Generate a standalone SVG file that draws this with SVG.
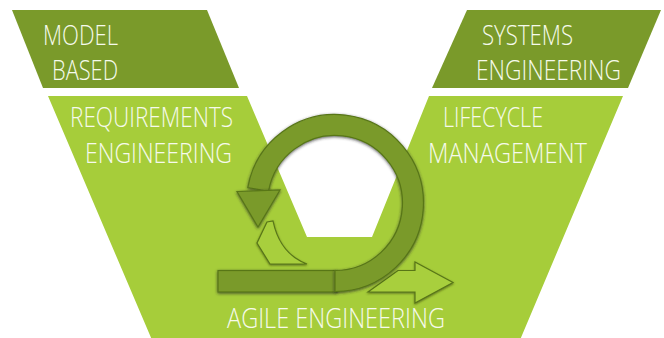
<svg xmlns="http://www.w3.org/2000/svg" width="664" height="338" viewBox="0 0 664 338">
  <defs>
    <style>
      .dark { fill: #7a9a2a; }
      .light { fill: #a6cd3a; }
      .lbl { font-family: "Open Sans", "Liberation Sans", sans-serif; font-weight: 300; font-size: 28px; fill: #f6faec; }
      .arr { fill: #7a9a2a; stroke: #587619; stroke-width: 1.2; }
      .arrl { fill: #a8cf3c; stroke: #587619; stroke-width: 1.2; }
    </style>
    <filter id="sh" x="-20%" y="-20%" width="140%" height="140%">
      <feDropShadow dx="0" dy="1" stdDeviation="1.6" flood-color="#2a2a2a" flood-opacity="0.75"/>
    </filter>
    <filter id="sh2" x="-20%" y="-20%" width="140%" height="140%">
      <feDropShadow dx="0" dy="1" stdDeviation="1.2" flood-color="#3a4a10" flood-opacity="0.7"/>
    </filter>
  </defs>

  <rect width="664" height="338" fill="#ffffff"/>

  <g id="model-based">
    <polygon class="dark" points="12,10 207,10 239,88 43,88"/>
    <text class="lbl" x="43" y="45" textLength="75" lengthAdjust="spacingAndGlyphs">MODEL</text>
    <text class="lbl" x="52" y="80" textLength="66" lengthAdjust="spacingAndGlyphs">BASED</text>
  </g>

  <g id="systems-engineering">
    <polygon class="dark" points="467,10 661,10 628,88 432,88"/>
    <text class="lbl" x="482" y="45" textLength="91" lengthAdjust="spacingAndGlyphs">SYSTEMS</text>
    <text class="lbl" x="476" y="80" textLength="145" lengthAdjust="spacingAndGlyphs">ENGINEERING</text>
  </g>

  <g id="v-shape">
    <polygon class="light" points="48,96 247,96 307,237 372,237 429,96 623,96 520,340 152,340"/>
  </g>

  <g id="requirements-engineering">
    <text class="lbl" x="70" y="127" textLength="163" lengthAdjust="spacingAndGlyphs">REQUIREMENTS</text>
    <text class="lbl" x="85" y="163" textLength="147" lengthAdjust="spacingAndGlyphs">ENGINEERING</text>
  </g>

  <g id="lifecycle-management">
    <text class="lbl" x="443" y="127" textLength="100" lengthAdjust="spacingAndGlyphs">LIFECYCLE</text>
    <text class="lbl" x="428" y="163" textLength="159" lengthAdjust="spacingAndGlyphs">MANAGEMENT</text>
  </g>

  <g id="connectors">
    <!-- outgoing arrow to the right (behind ring) -->
    <polygon class="arrl" filter="url(#sh2)" points="368,292 398,270.5 415,270.5 415,262 453,282.5 415,303 415,292"/>
    <!-- light tail piece -->
    <path class="arrl" filter="url(#sh2)" d="M267,222 L273,221 Q280,254 307,264 L270,264 L257,243 Z"/>
    <!-- horizontal bar -->
    <rect class="arr" filter="url(#sh)" x="218" y="270.5" width="119" height="21.5"/>
    <!-- ring -->
    <path class="arr" filter="url(#sh)" d="M335,270.5 A67.5,67.5 0 1 0 268.5,191.3 L247.8,187.6 A88.5,88.5 0 1 1 335,291.5 Z"/>
    <!-- arrowhead -->
    <polygon class="arr" filter="url(#sh)" points="237,191.5 280,190 258,227"/>
  </g>

  <g id="agile-engineering">
    <text class="lbl" x="227" y="328" textLength="218" lengthAdjust="spacingAndGlyphs">AGILE ENGINEERING</text>
  </g>
</svg>
